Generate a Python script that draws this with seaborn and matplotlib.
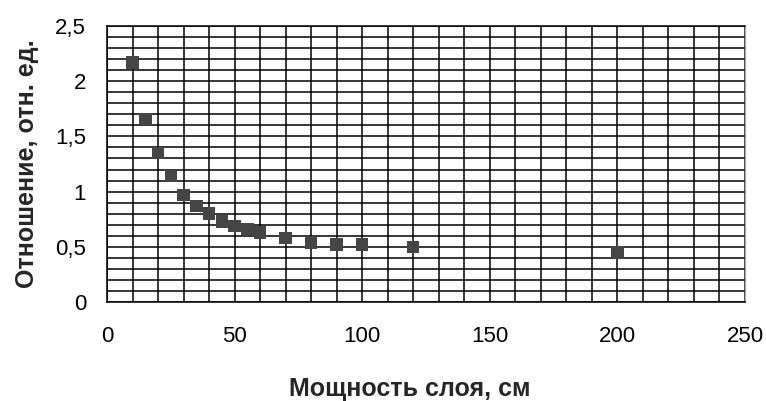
import numpy as np
import pandas as pd
import seaborn as sns
import matplotlib.pyplot as plt
from matplotlib.ticker import MultipleLocator

# данные: мощность слоя (см) и отношение (отн. ед.)
thickness = [10, 15, 20, 25, 30, 35, 40, 45, 50, 55, 60, 70, 80, 90, 100, 120, 200]
ratio = [2.17, 1.66, 1.35, 1.14, 0.97, 0.87, 0.80, 0.73, 0.69, 0.66, 0.63, 0.58, 0.54, 0.52, 0.52, 0.50, 0.45]

x_ticks = [0, 50, 100, 150, 200, 250]
y_ticks = [0, 0.5, 1, 1.5, 2, 2.5]
y_tick_labels = ['0', '0,5', '1', '1,5', '2', '2,5']

df = pd.DataFrame({'thickness': thickness, 'ratio': ratio})

sns.set_style('white')
plt.rcParams['font.family'] = ['Liberation Sans', 'DejaVu Sans']

fig = plt.figure(figsize=(7.66, 4.01), dpi=100)
ax = fig.add_axes([0.1397, 0.2469, 0.8329, 0.6883])

sns.scatterplot(data=df, x='thickness', y='ratio', marker='s', s=80,
                color='#454545', edgecolor='none', ax=ax, zorder=3)

ax.set_xlim(0, 250)
ax.set_ylim(0, 2.5)
ax.set_xticks(x_ticks)
ax.set_xticklabels([str(t) for t in x_ticks])
ax.set_yticks(y_ticks)
ax.set_yticklabels(y_tick_labels)

# сетка через 10 см и 0,1
ax.xaxis.set_minor_locator(MultipleLocator(10))
ax.yaxis.set_minor_locator(MultipleLocator(0.1))
ax.grid(which='both', color='black', linewidth=1.1)
ax.set_axisbelow(True)

ax.tick_params(axis='both', which='major', direction='out', length=5, width=1.1,
               labelsize=16, colors='black', pad=10)
ax.tick_params(axis='both', which='minor', length=0)
ax.tick_params(axis='x', pad=12)

for side in ['left', 'bottom', 'top']:
    ax.spines[side].set_color('black')
    ax.spines[side].set_linewidth(1.1)
ax.spines['right'].set_color('#b0b0b0')
ax.spines['right'].set_linewidth(1.0)

ax.set_xlabel('Мощность слоя, см', fontsize=18, fontweight='bold')
ax.xaxis.set_label_coords(0.475, -0.27)
ax.set_ylabel('Отношение, отн. ед.', fontsize=18, fontweight='bold', labelpad=12)

plt.savefig('out.png', dpi=100)
